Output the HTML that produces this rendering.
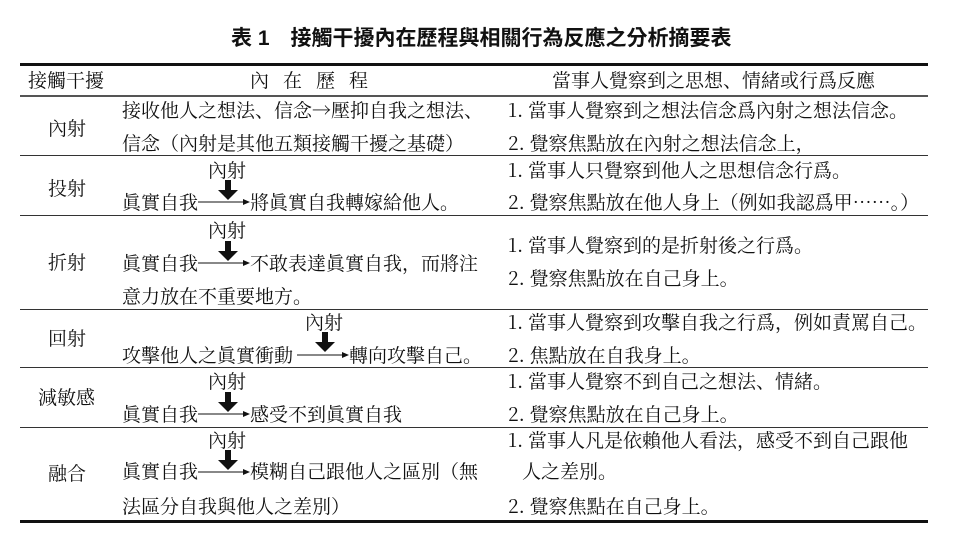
<!DOCTYPE html>
<html><head><meta charset="utf-8">
<style>
body{margin:0;background:#fff;}
#c{position:relative;width:961px;height:541px;overflow:hidden;font-family:"Noto Serif CJK SC","Liberation Serif",serif;color:#111;}
.t{position:absolute;font-size:19px;line-height:20px;white-space:nowrap;}
.h{position:absolute;left:20px;width:908px;background:#333;}
</style></head><body><div id="c">
<div class="t" style="left:231px;top:29px;font-weight:bold;font-size:21px;font-family:'Liberation Sans','Noto Sans CJK TC',sans-serif;">表 1　接觸干擾內在歷程與相關行為反應之分析摘要表</div>

<div class="h" style="top:63px;height:3px;background:#111"></div>
<div class="h" style="top:95px;height:2px;background:#555"></div>
<div class="h" style="top:155px;height:1px"></div>
<div class="h" style="top:215px;height:1px"></div>
<div class="h" style="top:309px;height:1px"></div>
<div class="h" style="top:367px;height:1px"></div>
<div class="h" style="top:427px;height:1px"></div>
<div class="h" style="top:520px;height:3px;background:#111"></div>

<div class="t" style="left:28px;top:70px">接觸干擾</div>
<div class="t" style="left:250px;top:70px;letter-spacing:14px">內在歷程</div>
<div class="t" style="left:552px;top:70px">當事人覺察到之思想、情緒或行爲反應</div>

<div class="t" style="left:48px;top:118px">內射</div>
<div class="t" style="left:48px;top:178px">投射</div>
<div class="t" style="left:48px;top:252px">折射</div>
<div class="t" style="left:48px;top:328px">回射</div>
<div class="t" style="left:38px;top:387px">減敏感</div>
<div class="t" style="left:48px;top:463px">融合</div>

<div class="t" style="left:122px;top:100px">接收他人之想法、信念→壓抑自我之想法、</div>
<div class="t" style="left:122px;top:133px">信念（內射是其他五類接觸干擾之基礎）</div>

<div class="t" style="left:208px;top:160px">內射</div>
<div class="t" style="left:122px;top:192px">眞實自我</div>
<div class="t" style="left:250px;top:192px">將眞實自我轉嫁給他人。</div>

<div class="t" style="left:208px;top:220px">內射</div>
<div class="t" style="left:122px;top:253px">眞實自我</div>
<div class="t" style="left:250px;top:253px">不敢表達眞實自我，而將注</div>
<div class="t" style="left:122px;top:286px">意力放在不重要地方。</div>

<div class="t" style="left:305px;top:312px">內射</div>
<div class="t" style="left:122px;top:345px">攻擊他人之眞實衝動</div>
<div class="t" style="left:349px;top:345px">轉向攻擊自己。</div>

<div class="t" style="left:208px;top:371px">內射</div>
<div class="t" style="left:122px;top:404px">眞實自我</div>
<div class="t" style="left:250px;top:404px">感受不到眞實自我</div>

<div class="t" style="left:208px;top:430px">內射</div>
<div class="t" style="left:122px;top:461px">眞實自我</div>
<div class="t" style="left:250px;top:461px">模糊自己跟他人之區別（無</div>
<div class="t" style="left:122px;top:496px">法區分自我與他人之差別）</div>

<svg width="961" height="541" style="position:absolute;left:0;top:0">
<g fill="#111" stroke="#111">
<line x1="198" y1="202" x2="246" y2="202" stroke-width="1"/><polygon points="250,202 243,199 243,205" stroke="none"/>
<rect x="225" y="180" width="6" height="10" stroke="none"/><polygon points="218,190 238,190 228,200" stroke="none"/>
<line x1="198" y1="263" x2="246" y2="263" stroke-width="1"/><polygon points="250,263 243,260 243,266" stroke="none"/>
<rect x="225" y="241" width="6" height="10" stroke="none"/><polygon points="218,251 238,251 228,261" stroke="none"/>
<line x1="297" y1="355" x2="345" y2="355" stroke-width="1"/><polygon points="349,355 342,352 342,358" stroke="none"/>
<rect x="322" y="332" width="6" height="10" stroke="none"/><polygon points="315,342 335,342 325,352" stroke="none"/>
<line x1="198" y1="414" x2="246" y2="414" stroke-width="1"/><polygon points="250,414 243,411 243,417" stroke="none"/>
<rect x="225" y="392" width="6" height="10" stroke="none"/><polygon points="218,402 238,402 228,412" stroke="none"/>
<line x1="198" y1="472" x2="246" y2="472" stroke-width="1"/><polygon points="250,472 243,469 243,475" stroke="none"/>
<rect x="225" y="450" width="6" height="10" stroke="none"/><polygon points="218,460 238,460 228,470" stroke="none"/>
</g></svg>

<div class="t" style="left:508px;top:100px">1. 當事人覺察到之想法信念爲內射之想法信念。</div>
<div class="t" style="left:508px;top:133px">2. 覺察焦點放在內射之想法信念上，</div>
<div class="t" style="left:508px;top:160px">1. 當事人只覺察到他人之思想信念行爲。</div>
<div class="t" style="left:508px;top:192px">2. 覺察焦點放在他人身上（例如我認爲甲……。）</div>
<div class="t" style="left:508px;top:235px">1. 當事人覺察到的是折射後之行爲。</div>
<div class="t" style="left:508px;top:268px">2. 覺察焦點放在自己身上。</div>
<div class="t" style="left:508px;top:312px">1. 當事人覺察到攻擊自我之行爲，例如責罵自己。</div>
<div class="t" style="left:508px;top:345px">2. 焦點放在自我身上。</div>
<div class="t" style="left:508px;top:371px">1. 當事人覺察不到自己之想法、情緒。</div>
<div class="t" style="left:508px;top:404px">2. 覺察焦點放在自己身上。</div>
<div class="t" style="left:508px;top:430px">1. 當事人凡是依賴他人看法，感受不到自己跟他</div>
<div class="t" style="left:522px;top:461px">人之差別。</div>
<div class="t" style="left:508px;top:496px">2. 覺察焦點在自己身上。</div>
</div></body></html>
